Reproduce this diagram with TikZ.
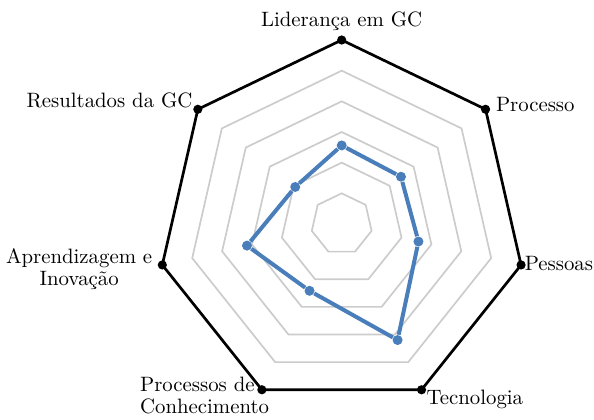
\documentclass[tikz,border=0pt]{standalone}
\usetikzlibrary{shapes,positioning,calc}
\definecolor{radarblue}{RGB}{74,126,187}
\definecolor{radargrey}{RGB}{204,204,204}

\begin{document}
\begin{tikzpicture}[
    ring/.style={regular polygon, regular polygon sides=7, inner sep=0pt, outer sep=0pt, draw=radargrey, line width=0.85pt},
    corner dot/.style={circle, fill=black, inner sep=0pt, minimum size=4.6pt},
    data dot/.style={circle, fill=radarblue, inner sep=0pt, minimum size=5pt},
    lbl/.style={font=\fontsize{10.4}{10.9}\selectfont, inner sep=0.3333em}
  ]
  \useasboundingbox (-170.85pt,-97.5pt) rectangle (126.15pt,112pt);

  % Grid rings
  \node[ring, minimum size=30.67pt] (g1) at (0,0) {};
  \node[ring, minimum size=61.33pt] (g2) at (0,0) {};
  \node[ring, minimum size=92pt] (g3) at (0,0) {};
  \node[ring, minimum size=122.67pt] (g4) at (0,0) {};
  \node[ring, minimum size=153.33pt] (g5) at (0,0) {};
  \node[ring, draw=black, line width=1.35pt, minimum size=184pt] (outer) at (0,0) {};

  % Corner points
  \node[corner dot] (v1) at (outer.corner 1) {};
  \node[corner dot] (v2) at (outer.corner 2) {};
  \node[corner dot] (v3) at (outer.corner 3) {};
  \node[corner dot] (v4) at (outer.corner 4) {};
  \node[corner dot] (v5) at (outer.corner 5) {};
  \node[corner dot] (v6) at (outer.corner 6) {};
  \node[corner dot] (v7) at (outer.corner 7) {};

  % Data series
  \node[data dot] (d1) at ($(outer.center)!0.427!(outer.corner 1)$) {};
  \node[data dot] (d2) at ($(outer.center)!0.323!(outer.corner 2)$) {};
  \node[data dot] (d3) at ($(outer.center)!0.528!(outer.corner 3)$) {};
  \node[data dot] (d4) at ($(outer.center)!0.403!(outer.corner 4)$) {};
  \node[data dot] (d5) at ($(outer.center)!0.700!(outer.corner 5)$) {};
  \node[data dot] (d6) at ($(outer.center)!0.428!(outer.corner 6)$) {};
  \node[data dot] (d7) at ($(outer.center)!0.412!(outer.corner 7)$) {};
  \draw[radarblue, line width=2pt] (d1) -- (d2) -- (d3) -- (d4) -- (d5) -- (d6) -- (d7) -- (d1);

  % Labels
  \node[lbl, above=-1.3pt of v1] (lLid) {Liderança em GC};
  \node[lbl, anchor=east, xshift=0.85pt, yshift=4.55pt] (lRes) at (v2.center) {Resultados da GC};
  \node[lbl, align=center, left=-1pt of v3, yshift=-2.2pt] (lApr) {Aprendizagem e\\Inovação};
  \node[lbl, align=left, anchor=east, xshift=7.1pt, yshift=-3pt] (lPC) at (v4.center) {Processos de\\Conhecimento};
  \node[lbl, anchor=north west, xshift=-1pt, yshift=3.5pt] (lTec) at (v5.center) {Tecnologia};
  \node[lbl, inner xsep=0pt, right=-0.8pt of v6, yshift=0.85pt] (lPess) {Pessoas};
  \node[lbl, right=-0.8pt of v7, yshift=2.5pt] (lProc) {Processo};
\end{tikzpicture}
\end{document}
